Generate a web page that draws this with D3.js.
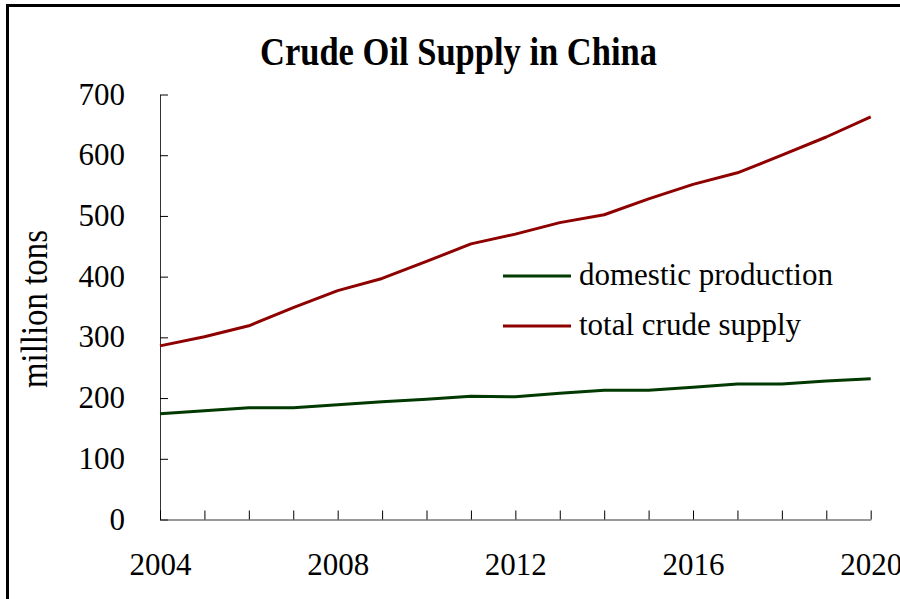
<!DOCTYPE html>
<html>
<head>
<meta charset="utf-8">
<script src="https://cdn.jsdelivr.net/npm/d3@7"></script>
<style>
  html, body { margin: 0; padding: 0; background: #fff; }
  svg { display: block; }
  text { font-family: "Liberation Serif", "Times New Roman", serif; fill: #000; }
</style>
</head>
<body>
<svg id="chart" width="900" height="599"></svg>
<script>
const years = [2004, 2005, 2006, 2007, 2008, 2009, 2010, 2011, 2012, 2013, 2014, 2015, 2016, 2017, 2018, 2019, 2020];
const domesticProduction = [174, 179, 184, 184, 189, 194, 198, 203, 202, 208, 213, 213, 218, 223, 223, 228, 232];
const totalCrudeSupply = [286, 301, 319, 349, 377, 397, 425, 454, 470, 489, 502, 528, 552, 571, 600, 630, 663];
const xTickLabels = [2004, 2008, 2012, 2016, 2020];
const yTickValues = [0, 100, 200, 300, 400, 500, 600, 700];
const seriesNames = ["domestic production", "total crude supply"];
const seriesColors = ["#003a00", "#8e0000"];

const svg = d3.select("#chart");

// outer frame (cut by the picture edge at right and bottom)
svg.append("rect")
  .attr("x", 7.5).attr("y", 5.5)
  .attr("width", 1000).attr("height", 1000)
  .attr("fill", "none").attr("stroke", "#000").attr("stroke-width", 3);

const x = d3.scaleLinear().domain([2004, 2020]).range([160, 870.7]);
const y = d3.scaleLinear().domain([0, 700]).range([519.5, 94.5]);

// y axis
const yAxis = svg.append("g")
  .attr("transform", "translate(160,0)")
  .call(d3.axisLeft(y).tickValues(yTickValues).tickSizeInner(-8).tickSizeOuter(0).tickPadding(35));
yAxis.select(".domain").attr("stroke", "#333");
yAxis.selectAll(".tick line").attr("stroke", "#000");
yAxis.selectAll("text")
  .attr("font-size", 31).attr("font-family", "Liberation Serif, Times New Roman, serif")
  .attr("dy", 9.5);

// x axis
const xAxis = svg.append("g")
  .attr("transform", `translate(0,${y(0)})`)
  .call(d3.axisBottom(x).tickValues(years).tickSizeInner(-9).tickSizeOuter(0)
    .tickFormat(d => xTickLabels.includes(d) ? String(d) : ""));
xAxis.select(".domain").attr("stroke", "#333");
xAxis.selectAll(".tick line").attr("stroke", "#000");
xAxis.selectAll("text")
  .attr("font-size", 31).attr("font-family", "Liberation Serif, Times New Roman, serif")
  .attr("y", 55).attr("dy", null);

// lines
const line = d3.line().x((d, i) => x(years[i])).y(d => y(d));
[domesticProduction, totalCrudeSupply].forEach((s, k) => {
  svg.append("path")
    .datum(s)
    .attr("d", line)
    .attr("fill", "none")
    .attr("stroke", seriesColors[k])
    .attr("stroke-width", 3)
    .attr("stroke-linejoin", "round");
});

// legend
seriesNames.forEach((name, k) => {
  const ly = 276 + k * 50;
  svg.append("line")
    .attr("x1", 503).attr("x2", 571).attr("y1", ly).attr("y2", ly)
    .attr("stroke", seriesColors[k]).attr("stroke-width", 3);
  svg.append("text")
    .attr("x", 579).attr("y", ly + 8.5)
    .attr("font-size", 31)
    .text(name);
});

// title
svg.append("text")
  .attr("x", 458.5).attr("y", 65)
  .attr("text-anchor", "middle")
  .attr("font-size", 41).attr("font-weight", "bold")
  .attr("textLength", 397).attr("lengthAdjust", "spacingAndGlyphs")
  .text("Crude Oil Supply in China");

// y label
svg.append("text")
  .attr("transform", "translate(46.5,309) rotate(-90)")
  .attr("text-anchor", "middle")
  .attr("font-size", 38)
  .attr("textLength", 158).attr("lengthAdjust", "spacingAndGlyphs")
  .text("million tons");
</script>
</body>
</html>
